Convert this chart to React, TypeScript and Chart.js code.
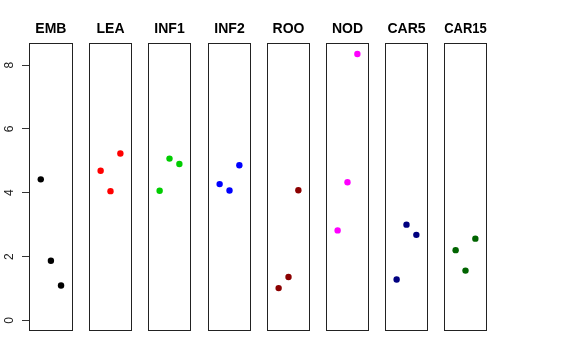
import React, { useEffect, useRef } from "react";
import { Chart, registerables } from "chart.js";

Chart.register(...registerables);

const panelNames = ["EMB", "LEA", "INF1", "INF2", "ROO", "NOD", "CAR5", "CAR15"];
const panelColors = ["#000000", "#FF0000", "#00CD00", "#0000FF", "#8B0000", "#FF00FF", "#000080", "#006400"];
const xPositions = [1, 2, 3];
const embValues = [4.42, 1.87, 1.09];
const leaValues = [4.69, 4.05, 5.23];
const inf1Values = [4.06, 5.07, 4.9];
const inf2Values = [4.27, 4.07, 4.86];
const rooValues = [1.01, 1.36, 4.08];
const nodValues = [2.82, 4.33, 8.35];
const car5Values = [1.28, 3.0, 2.68];
const car15Values = [2.2, 1.56, 2.56];
const yTicks = [0, 2, 4, 6, 8];

const allValues = [embValues, leaValues, inf1Values, inf2Values, rooValues, nodValues, car5Values, car15Values];

const yDataMax = Math.max(...allValues.flat());
const yMin = 0 - yDataMax * 0.04;
const yMax = yDataMax * 1.04;
const xMin = 0 - 4 * 0.04;
const xMax = 4 + 4 * 0.04;

const FONT = "'Liberation Sans', Arial, Helvetica, sans-serif";
const PANEL_W = 45;
const AXIS_W = 29;

const boxPlugin = {
  id: "panelBox",
  beforeDatasetsDraw(chart: any) {
    const { ctx, chartArea } = chart;
    ctx.save();
    ctx.strokeStyle = "#222";
    ctx.lineWidth = 1;
    const l = Math.round(chartArea.left) + 0.5;
    const t = Math.round(chartArea.top) + 0.5;
    const r = Math.round(chartArea.right) - 0.5;
    const b = Math.round(chartArea.bottom) - 0.5;
    ctx.strokeRect(l, t, r - l, b - t);
    ctx.restore();
  },
};

function Panel({ index }: { index: number }) {
  const ref = useRef<HTMLCanvasElement | null>(null);
  const first = index === 0;
  const boxLeft = Math.round(29 + index * 59.2);
  const canvasLeft = first ? 0 : boxLeft - 2;
  const canvasWidth = first ? AXIS_W + PANEL_W + 2 : PANEL_W + 4;

  useEffect(() => {
    if (!ref.current) return;
    const values = allValues[index];
    const chart = new Chart(ref.current, {
      type: "scatter",
      data: {
        datasets: [
          {
            data: xPositions.map((x, j) => ({ x, y: values[j] })),
            backgroundColor: panelColors[index],
            borderColor: panelColors[index],
            borderWidth: 0,
            pointRadius: 3.2,
            pointHoverRadius: 3.2,
          },
        ],
      },
      options: {
        animation: false,
        responsive: false,
        events: [],
        layout: { padding: { top: 21, bottom: 29, left: first ? 0 : 2, right: 2 } },
        plugins: {
          legend: { display: false },
          tooltip: { enabled: false },
          title: {
            display: true,
            text: panelNames[index],
            fullSize: false,
            color: "#000",
            font: { family: FONT, size: 14, weight: "bold" },
            padding: { top: 0, bottom: 5.5 },
          },
        },
        scales: {
          x: { type: "linear", min: xMin, max: xMax, display: false },
          y: {
            type: "linear",
            min: yMin,
            max: yMax,
            display: first,
            afterFit: (s: any) => {
              s.width = first ? AXIS_W : 0;
            },
            afterBuildTicks: (s: any) => {
              s.ticks = yTicks.map((v) => ({ value: v }));
            },
            border: { display: false },
            grid: {
              display: true,
              drawOnChartArea: false,
              drawTicks: true,
              tickLength: 7,
              color: "#333",
              lineWidth: 1,
            },
            ticks: {
              minRotation: 90,
              maxRotation: 90,
              crossAlign: "center",
              padding: 9,
              color: "#222",
              font: { family: FONT, size: 12 },
              callback: (v: any) => String(v),
            },
          },
        },
      },
      plugins: [boxPlugin],
    } as any);
    return () => chart.destroy();
  }, [index]);

  return (
    <canvas
      ref={ref}
      width={canvasWidth}
      height={360}
      style={{ position: "absolute", left: canvasLeft, top: 0, width: canvasWidth, height: 360, display: "block" }}
    />
  );
}

export default function App() {
  return (
    <div style={{ position: "fixed", left: 0, top: 0, width: 576, height: 360, background: "#fff" }}>
      {panelNames.map((_, i) => (
        <Panel key={i} index={i} />
      ))}
    </div>
  );
}
